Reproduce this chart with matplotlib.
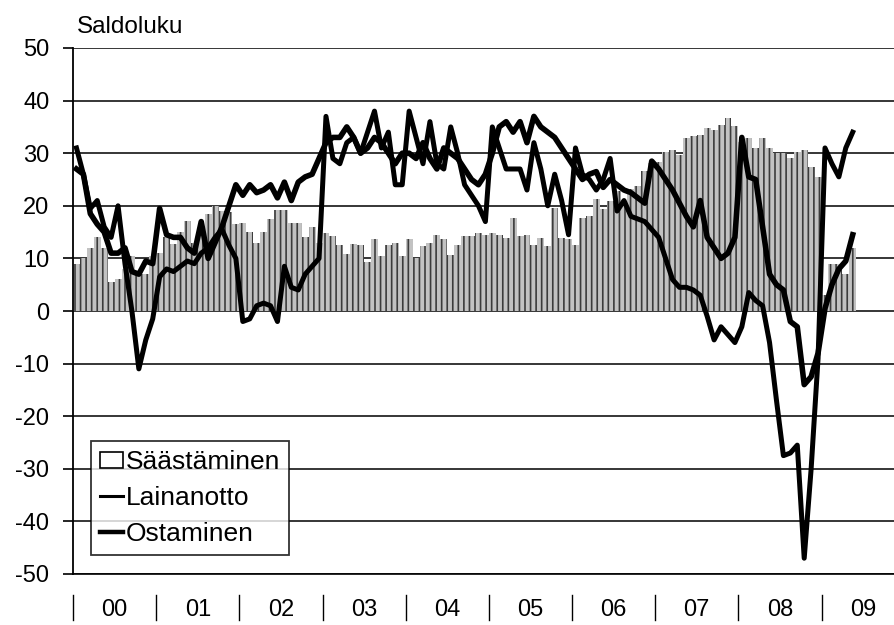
import numpy as np
import matplotlib
matplotlib.use("Agg")
import matplotlib.pyplot as plt
from matplotlib.patches import Patch
from matplotlib.lines import Line2D
import matplotlib.transforms as mtransforms

plt.rcParams['font.family'] = ['Liberation Sans', 'DejaVu Sans']
plt.rcParams['hatch.linewidth'] = 1.2
plt.rcParams['axes.unicode_minus'] = False

# kuukausittaiset saldoluvut, tammikuu 2000 - toukokuu 2009
vuodet = ["00", "01", "02", "03", "04", "05", "06", "07", "08", "09"]

saastaminen = [
    9, 10, 12, 14, 12, 5.5, 6, 8, 10.5, 7, 7, 10.5,
    11, 14, 12.8, 15, 17.2, 13, 16, 18.5, 20, 19, 18.9, 16.5,
    16.8, 15, 13, 15, 17.5, 19.2, 19.2, 16.8, 16.8, 14, 15.9, 13,
    14.8, 14.2, 12.5, 10.8, 12.8, 12.5, 9.4, 13.6, 10.4, 12.6, 12.9, 10.4,
    13.6, 10, 12.3, 12.9, 14.5, 13.6, 10.7, 12.6, 14.2, 14.2, 14.8, 14.5,
    14.8, 14.5, 13.9, 17.7, 14.2, 14.5, 12.6, 13.9, 12.3, 19.6, 13.9, 13.6,
    12.6, 17.7, 18, 21.2, 19.3, 20.9, 22.8, 20.9, 23.1, 23.8, 26.6, 28.2,
    28.4, 30.3, 30.6, 29.7, 32.9, 33.2, 33.5, 34.8, 34.5, 35.4, 36.7, 35.1,
    32.2, 32.9, 31, 32.9, 31, 30, 30, 29, 30.3, 30.6, 27.4, 25.5,
    3, 9, 9, 7, 12,
]

lainanotto = [
    31, 26, 19.5, 21, 16, 14, 20, 9, 0, -11, -5.5, -1.5,
    6.5, 8, 7.5, 8.5, 9.5, 9, 11, 12, 14, 15.5, 12.5, 10,
    -2, -1.5, 1, 1.5, 1, -2, 8.5, 4.5, 4, 7, 8.5, 10,
    37, 29, 28, 32, 33, 30, 34, 38, 31, 34, 24, 24,
    38, 33, 28, 36, 28, 27, 35, 30, 24, 22, 20, 17,
    35, 31, 27, 27, 27, 23, 32, 27, 20, 26, 21, 14.5,
    31, 26, 25, 23, 25, 29, 19, 21, 18, 17.5, 17, 15.5,
    14, 10, 6, 4.5, 4.5, 4, 3, -1, -5.5, -3, -4.5, -6,
    -3, 3.5, 2, 1, -6, -17, -27.5, -27, -25.5, -47, -30, -9,
    31, 28, 25.5, 31, 34,
]

ostaminen = [
    27, 26, 18.5, 16.5, 15, 11, 11, 12, 7.5, 7, 9.5, 9,
    19.5, 14.5, 14, 14, 12, 11, 17, 10, 13, 16, 20, 24,
    22, 24, 22.5, 23, 24, 21.5, 24.5, 21, 24.5, 25.5, 26, 29,
    32, 33, 33, 35, 33, 30, 31, 33, 32, 30, 28, 30,
    30, 29, 32, 29, 27, 31, 30, 29, 27, 25, 24, 26,
    30, 35, 36, 34, 36, 32, 37, 35, 34, 33, 31, 29,
    27, 25, 26, 26.5, 23.5, 25, 24, 23, 22.5, 21.5, 20.5, 28.5,
    27, 25, 23, 20.5, 18, 16, 21, 14, 12, 10, 11, 14,
    33, 25.5, 25, 16, 7, 5, 4, -2, -3, -14, -12.5, -8,
    0.5, 5, 8, 9.5, 14.5,
]

x = np.arange(len(saastaminen))

fig = plt.figure(figsize=(8.95, 6.25), dpi=100)
ax = fig.add_axes([73/895, 51/625, 822/895, 526/625])

ax.bar(x, saastaminen, width=1.0, color='#c2c2c2', edgecolor='#3c3c3c',
       linewidth=0, hatch='|||', zorder=2)
ax.plot(x, lainanotto, color='black', lw=3.6, zorder=3)
ax.plot(x, ostaminen, color='black', lw=4.0, zorder=3)

ax.set_xlim(-0.5, 118.1)
ax.set_ylim(-50, 50)
ax.set_yticks(range(-50, 51, 10))
ax.tick_params(axis='y', labelsize=17, length=7, width=1.2, pad=10, color='black')
ax.set_xticks([])
for y in range(-50, 51, 10):
    ax.axhline(y, color='black', lw=1.1, zorder=1)

for s in ['right', 'top']:
    ax.spines[s].set_visible(False)
ax.spines['left'].set_linewidth(1.3)
ax.spines['bottom'].set_linewidth(1.2)

# vuosien erottimet ja vuosiluvut akselin alle
trans = mtransforms.blended_transform_factory(ax.transData, ax.transAxes)
for k, v in enumerate(vuodet):
    raja = 12 * k - 0.5
    ax.plot([raja, raja], [-0.040, -0.088], color='black', lw=1.0,
            transform=trans, clip_on=False)
    ax.text(12 * k + 5.5, -0.068, v, transform=trans, ha='center', va='center',
            fontsize=17)

fig.text(77/895, 1 - 33/625, "Saldoluku", fontsize=17.5, va='baseline', ha='left')

handles = [Patch(facecolor='white', edgecolor='black', linewidth=1.2),
           Line2D([], [], color='black', lw=2.2),
           Line2D([], [], color='black', lw=3.2)]
leg = ax.legend(handles, ["Säästäminen", "Lainanotto", "Ostaminen"],
                loc='lower left', bbox_to_anchor=(0.022, 0.036),
                fontsize=19, frameon=True, fancybox=False, borderaxespad=0,
                handlelength=0.85, handleheight=0.55, handletextpad=0.1,
                borderpad=0.35, labelspacing=0.45)
leg.get_frame().set_edgecolor('black')
leg.get_frame().set_linewidth(1.3)
leg.set_zorder(5)

fig.savefig("out.png", dpi=100)
